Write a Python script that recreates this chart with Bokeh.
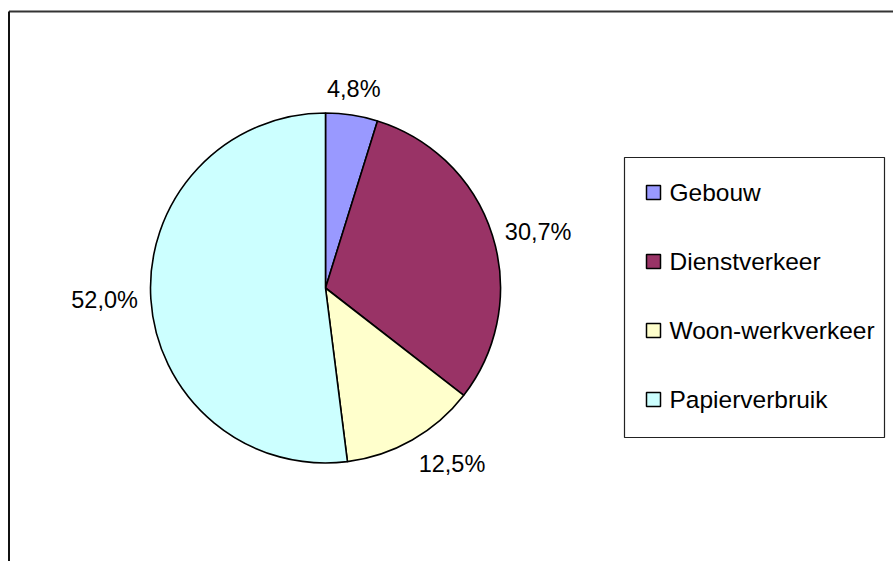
import math
from bokeh.plotting import figure
from bokeh.models import ColumnDataSource, Range1d
from bokeh.core.properties import value
from bokeh.embed import file_html
from bokeh.resources import INLINE

# ---- data ----
categories = ["Gebouw", "Dienstverkeer", "Woon-werkverkeer", "Papierverbruik"]
shares = [4.8, 30.7, 12.5, 52.0]
labels = ["4,8%", "30,7%", "12,5%", "52,0%"]
colors = ["#9999FF", "#993366", "#FFFFCC", "#CCFFFF"]

W, H = 893, 561
FONT = "Liberation Sans"

p = figure(width=W, height=H, output_backend="svg", toolbar_location=None,
           x_range=Range1d(0, W), y_range=Range1d(0, H), min_border=0)
p.axis.visible = False
p.grid.visible = False
p.outline_line_color = None
p.background_fill_color = "white"
p.border_fill_color = "white"

# chart-area frame (top and left edges visible)
p.line([8.5, W], [H - 11, H - 11], line_color="#333333", line_width=2)
p.line([8.5, 8.5], [0, H - 11], line_color="#111111", line_width=2)

# ---- pie ----
cx, cy, R = 325, H - 287.5, 175
total = sum(shares)
starts, ends, mids = [], [], []
acc = 0.0
for s in shares:
    a0 = acc / total
    acc += s
    a1 = acc / total
    starts.append(math.pi / 2 - 2 * math.pi * a0)
    ends.append(math.pi / 2 - 2 * math.pi * a1)
    mids.append(2 * math.pi * (a0 + a1) / 2)  # clockwise from top

src = ColumnDataSource(dict(x=[cx] * 4, y=[cy] * 4, s=starts, e=ends, c=colors))
p.wedge(x="x", y="y", radius=R, start_angle="s", end_angle="e", direction="clock",
        fill_color="c", line_color="black", line_width=1.6, source=src)

# data labels outside the pie
gap = 13
lx, ly, al, bl = [], [], [], []
for m in mids:
    sn, cs = math.sin(m), math.cos(m)
    lx.append(cx + (R + gap) * sn)
    ly.append(cy + (R + gap) * cs)
    al.append("left" if sn > 0.35 else ("right" if sn < -0.35 else "center"))
    bl.append("bottom" if cs > 0.35 else ("top" if cs < -0.35 else "middle"))
for i in range(4):
    p.text(x=[lx[i]], y=[ly[i]], text=[labels[i]], text_align=al[i], text_baseline=bl[i],
           text_font=value(FONT), text_font_size="23.5px", text_color="black")

# ---- legend ----
bx0, bx1, by0, by1 = 624, 884, H - 437, H - 157
p.quad(left=[bx0], right=[bx1], bottom=[by0], top=[by1], fill_color="white",
       line_color="#222222", line_width=1.2)
row0, step = H - 192, 69
ys = [row0 - i * step for i in range(len(categories))]
p.rect(x=[653] * 4, y=ys, width=14, height=14, fill_color=colors,
       line_color="black", line_width=1.5)
p.text(x=[669] * 4, y=ys, text=categories, text_align="left", text_baseline="middle",
       text_font=value(FONT), text_font_size="24.5px", text_color="black")

open("out.html", "w").write(file_html(p, INLINE))
